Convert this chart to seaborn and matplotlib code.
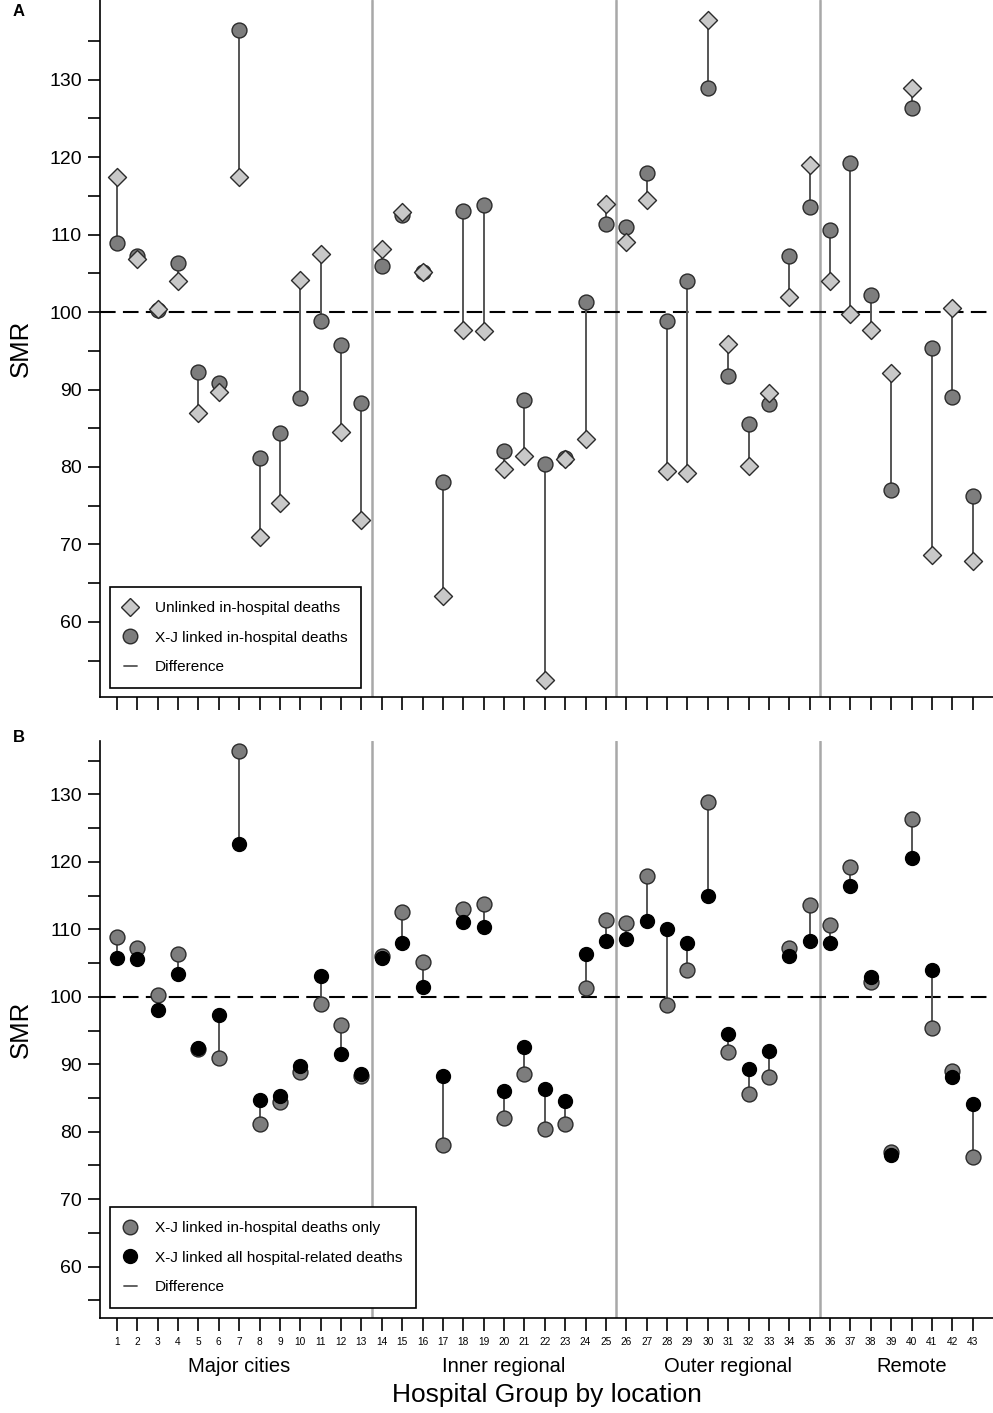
import numpy as np
import matplotlib.pyplot as plt
import seaborn as sns
from matplotlib.lines import Line2D
from matplotlib.transforms import blended_transform_factory

# Hospital numbers and group membership
hospital = list(range(1, 44))
group_names = ["Major cities", "Inner regional", "Outer regional", "Remote"]
group_sizes = [13, 12, 10, 8]
group_label_pos = [7, 20, 31, 40]

# SMR values
unlinked = [117.5, 106.8, 100.4, 104.0, 87.0, 89.7, 117.5, 71.0, 75.3, 104.1, 107.5, 84.5, 73.2,
            108.1, 112.9, 105.2, 63.3, 97.7, 97.5, 79.8, 81.4, 52.5, 81.0, 83.6, 114.0,
            109.0, 114.5, 79.5, 79.2, 137.7, 95.9, 80.1, 89.6, 101.9, 119.0,
            104.0, 99.7, 97.7, 92.2, 129.0, 68.6, 100.5, 67.8]
linked_inhosp = [108.9, 107.2, 100.3, 106.3, 92.3, 90.9, 136.4, 81.2, 84.4, 88.9, 98.9, 95.8, 88.3,
                 106.0, 112.6, 105.2, 78.0, 113.0, 113.8, 82.1, 88.6, 80.4, 81.1, 101.3, 111.4,
                 111.0, 117.9, 98.8, 104.0, 128.9, 91.8, 85.6, 88.1, 107.2, 113.6,
                 110.6, 119.3, 102.2, 77.0, 126.4, 95.4, 89.0, 76.3]
linked_all = [105.8, 105.6, 98.1, 103.3, 92.4, 97.3, 122.7, 84.7, 85.3, 89.8, 103.1, 91.5, 88.5,
              105.7, 107.9, 101.5, 88.3, 111.1, 110.3, 86.0, 92.5, 86.4, 84.6, 106.3, 108.3,
              108.5, 111.3, 110.1, 108.0, 114.9, 94.5, 89.3, 91.9, 106.0, 108.3,
              108.0, 116.4, 102.9, 76.5, 120.5, 103.9, 88.1, 84.1]

sns.set_style("ticks")
plt.rcParams['font.family'] = ['Liberation Sans', 'DejaVu Sans']
for key in ['text.color', 'axes.labelcolor', 'xtick.color', 'ytick.color', 'axes.edgecolor']:
    plt.rcParams[key] = 'black'

W, H = 993, 1413
fig = plt.figure(figsize=(W / 100, H / 100), dpi=100)
axA = fig.add_axes([100 / W, 1 - 697 / H, 893 / W, 697 / H])
axB = fig.add_axes([100 / W, 1 - 1318 / H, 893 / W, (1318 - 741) / H])

diamond_col = '#c8c8c8'
grey_col = '#7d7d7d'
edge_col = '#2b2b2b'
diff_col = '#555555'
separators = np.cumsum(group_sizes)[:-1] + 0.5


def style_axis(ax, ylim, xlabels):
    ax.set_xlim(0.17, 44.0)
    ax.set_ylim(*ylim)
    yt = np.arange(55, 140, 5)
    ax.set_yticks(yt)
    ax.set_yticklabels([str(v) if v % 10 == 0 else '' for v in yt])
    ax.set_xticks(hospital)
    ax.set_xticklabels([str(h) for h in hospital] if xlabels else [''] * len(hospital))
    ax.tick_params(axis='both', length=9, width=1.2, color='black', direction='out')
    ax.tick_params(axis='y', labelsize=14, pad=4)
    ax.tick_params(axis='x', labelsize=7.3, pad=5)
    ax.set_ylabel('SMR', fontsize=18.5, labelpad=12)
    ax.set_xlabel('')
    sns.despine(ax=ax)
    for s in ['left', 'bottom']:
        ax.spines[s].set_linewidth(1.2)
    ax.axhline(100, color='black', lw=1.5, dashes=(7.5, 3.5), zorder=1)
    for s in separators:
        ax.axvline(s, color='#a8a8a8', lw=1.8, zorder=0)


def add_legend(ax, handles, labels, bottom):
    leg = ax.legend(handles, labels, loc='lower left', bbox_to_anchor=(0.0112, bottom),
                    borderaxespad=0, fontsize=11.1, frameon=True, fancybox=False,
                    framealpha=1, edgecolor='black', handlelength=0.85,
                    handletextpad=1.15, borderpad=0.9, labelspacing=1.0)
    leg.get_frame().set_linewidth(1.2)


# Panel A
axA.vlines(hospital, np.minimum(unlinked, linked_inhosp), np.maximum(unlinked, linked_inhosp),
           color=diff_col, lw=1.4, zorder=2)
sns.scatterplot(x=hospital, y=linked_inhosp, marker='o', s=115, color=grey_col,
                edgecolor=edge_col, linewidth=1, ax=axA, zorder=3, legend=False)
sns.scatterplot(x=hospital, y=unlinked, marker='D', s=84, color=diamond_col,
                edgecolor=edge_col, linewidth=1, ax=axA, zorder=4, legend=False)
style_axis(axA, (50.3, 140.3), False)
add_legend(axA,
           [Line2D([], [], marker='D', ls='none', markersize=9.2, mfc=diamond_col, mec=edge_col, mew=1),
            Line2D([], [], marker='o', ls='none', markersize=10.5, mfc=grey_col, mec=edge_col, mew=1),
            Line2D([], [], color=diff_col, lw=1.3)],
           ['Unlinked in-hospital deaths', 'X-J linked in-hospital deaths', 'Difference'],
           0.0129)

# Panel B
axB.vlines(hospital, np.minimum(linked_inhosp, linked_all), np.maximum(linked_inhosp, linked_all),
           color=diff_col, lw=1.4, zorder=2)
sns.scatterplot(x=hospital, y=linked_inhosp, marker='o', s=115, color=grey_col,
                edgecolor=edge_col, linewidth=1, ax=axB, zorder=3, legend=False)
sns.scatterplot(x=hospital, y=linked_all, marker='o', s=100, color='black',
                edgecolor='black', linewidth=1, ax=axB, zorder=4, legend=False)
style_axis(axB, (52.4, 137.9), True)
add_legend(axB,
           [Line2D([], [], marker='o', ls='none', markersize=10.5, mfc=grey_col, mec=edge_col, mew=1),
            Line2D([], [], marker='o', ls='none', markersize=10, mfc='black', mec='black', mew=1),
            Line2D([], [], color=diff_col, lw=1.3)],
           ['X-J linked in-hospital deaths only', 'X-J linked all hospital-related deaths', 'Difference'],
           0.0173)

# Group labels and axis title
trans = blended_transform_factory(axB.transData, fig.transFigure)
for name, pos in zip(group_names, group_label_pos):
    axB.text(pos, 1 - 1367 / H, name, transform=trans, ha='center', va='center', fontsize=14.5)
fig.text(546.5 / W, 1 - 1395 / H, 'Hospital Group by location', ha='center', va='center', fontsize=19)

fig.text(13 / W, 1 - 12 / H, 'A', fontsize=12, fontweight='bold', va='center', ha='left')
fig.text(13 / W, 1 - 738 / H, 'B', fontsize=12, fontweight='bold', va='center', ha='left')

fig.savefig('out.png', dpi=100)
